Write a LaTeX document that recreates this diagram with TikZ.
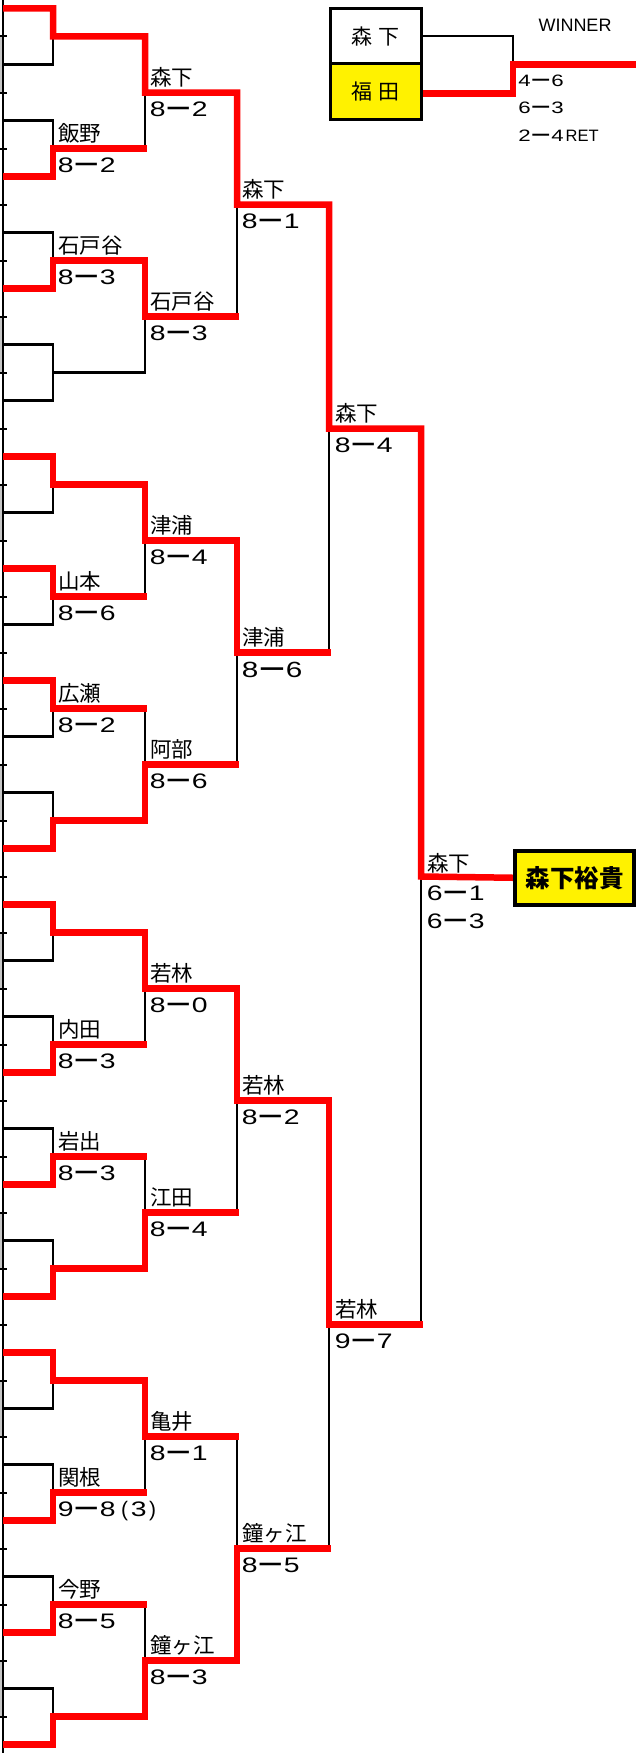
\documentclass[tikz,border=0pt]{standalone}
\usepackage{fontspec}
\usepackage{graphicx}
\setmainfont{Noto Sans CJK JP}
\newfontfamily\arial{Liberation Sans}
\pgfdeclarelayer{bg}
\pgfsetlayers{bg,main}
% score glyph helpers
\newcommand\dgt[1]{\makebox[1em]{\arial\scalebox{1.35}[1]{#1}}}
\newcommand\dsh{\makebox[1em]{\bfseries\scalebox{1.45}[1]{－}}}
\newcommand\scr[2]{\dgt{#1}\dsh\dgt{#2}}
\newcommand\bkl[5]{%
  \node[nm] (#1a) at ({#2+5},{#3-7}) {#4};
  \node[sc] (#1b) at ({#2+2},{#3+23.5}) {#5};}
\begin{document}
\begin{tikzpicture}[x=1pt,y=-1pt,
  blk/.style={line width=2.3pt,black,line cap=rect},
  redp/.style={line width=6.5pt,red,line join=miter,line cap=butt},
  nm/.style={anchor=base west,inner sep=0pt,font=\fontsize{21.5}{23}\selectfont},
  sc/.style={anchor=base west,inner sep=0pt,font=\fontsize{21}{23}\selectfont},
  small/.style={anchor=base west,inner sep=0pt,font=\fontsize{16.5}{18}\selectfont},
]
\useasboundingbox (0,0) rectangle (636,1753);

% ---------- boxes ----------
\node[draw,line width=3pt,minimum width=91pt,minimum height=54.5pt,inner sep=0pt,
      font=\fontsize{21}{23}\selectfont] (tA) at (375.5,36.25) {森\hspace{7pt}下};
\node[draw,fill=yellow,line width=3pt,minimum width=91pt,minimum height=55.5pt,inner sep=0pt,
      font=\fontsize{21}{23}\selectfont] (tB) at (375.5,91.25) {福\hspace{7pt}田};
\node[anchor=base,inner sep=0pt,font=\arial\fontsize{18}{20}\selectfont] (win) at (575,32) {WINNER};
\node[small] (fs1) at (516,86) {\scr{4}{6}};
\node[small] (fs2) at (516,113.5) {\scr{6}{3}};
\node[small] (fs3) at (516,141) {\scr{2}{4}{\arial RET}};

\node[draw,fill=yellow,line width=4pt,minimum width=119pt,minimum height=53.5pt,inner sep=0pt,
      font=\bfseries\fontsize{24.5}{26}\selectfont] (champ) at (574.5,877.75) {森下裕貴};

% ---------- labels ----------
% round 1 (vertical x = 53)
\bkl{ra}{53}{148.5}{飯野}{\scr{8}{2}}
\bkl{rb}{53}{260.5}{石戸谷}{\scr{8}{3}}
\bkl{rc}{53}{596.5}{山本}{\scr{8}{6}}
\bkl{rd}{53}{708.5}{広瀬}{\scr{8}{2}}
\bkl{re}{53}{1044.5}{内田}{\scr{8}{3}}
\bkl{rf}{53}{1156.5}{岩出}{\scr{8}{3}}
\bkl{rg}{53}{1492.5}{関根}{\scr{9}{8}\makebox[10pt][r]{\arial(}\dgt{3}\makebox[7pt][l]{\arial)}}
\bkl{rh}{53}{1604.5}{今野}{\scr{8}{5}}
% round 2 (x = 145)
\bkl{sa}{145}{92.5}{森下}{\scr{8}{2}}
\bkl{sb}{145}{316.5}{石戸谷}{\scr{8}{3}}
\bkl{sc}{145}{540.5}{津浦}{\scr{8}{4}}
\bkl{sd}{145}{764.5}{阿部}{\scr{8}{6}}
\bkl{se}{145}{988.5}{若林}{\scr{8}{0}}
\bkl{sf}{145}{1212.5}{江田}{\scr{8}{4}}
\bkl{sg}{145}{1436.5}{亀井}{\scr{8}{1}}
\bkl{sh}{145}{1660.5}{鐘ヶ江}{\scr{8}{3}}
% round 3 (x = 237)
\bkl{ta}{237}{204.5}{森下}{\scr{8}{1}}
\node[nm] (tba) at (242,645.5) {津浦};
\node[sc,font=\fontsize{22}{24}\selectfont] (tbb) at (239,677) {\scr{8}{6}};
\bkl{tc}{237}{1100.5}{若林}{\scr{8}{2}}
\bkl{td}{237}{1548.5}{鐘ヶ江}{\scr{8}{5}}
% round 4 (x = 329)
\bkl{ua}{330}{428.5}{森下}{\scr{8}{4}}
\bkl{ub}{330}{1324.5}{若林}{\scr{9}{7}}
% round 5 (x = 421)
\node[nm] (va) at (427,871.5) {森下};
\node[sc] (vb) at (424,900) {\scr{6}{1}};
\node[sc] (vc) at (424,928) {\scr{6}{3}};

\begin{pgfonlayer}{bg}
% gray marks on the left edge
\foreach \q in {0,...,3} {
  \draw[gray!45,line width=2pt] (1,{36.5+448*\q}) -- (1,{92.5+448*\q});
  \draw[gray!45,line width=2pt] (1,{316.5+448*\q}) -- (1,{372.5+448*\q});
}
% left rule and ticks
\draw[line width=2.5pt] (3,0) -- (3,1753);
\foreach \j in {0,...,30} \draw[line width=2pt] (0,{36.5+56*\j}) -- (7,{36.5+56*\j});
% black skeleton
\foreach \j in {0,...,31} \draw[blk] (3,{8.5+56*\j}) -- (53,{8.5+56*\j});
\foreach \k in {0,...,15} {
  \draw[blk] (53,{8.5+112*\k}) -- (53,{64.5+112*\k});
  \draw[blk] (53,{36.5+112*\k}) -- (145,{36.5+112*\k});
}
\foreach \p in {0,...,7} {
  \draw[blk] (145,{36.5+224*\p}) -- (145,{148.5+224*\p});
  \draw[blk] (145,{92.5+224*\p}) -- (237,{92.5+224*\p});
}
\foreach \q in {0,...,3} {
  \draw[blk] (237,{92.5+448*\q}) -- (237,{316.5+448*\q});
  \draw[blk] (237,{204.5+448*\q}) -- (329,{204.5+448*\q});
}
\foreach \h in {0,1} {
  \draw[blk] (329,{204.5+896*\h}) -- (329,{652.5+896*\h});
  \draw[blk] (329,{428.5+896*\h}) -- (421,{428.5+896*\h});
}
\draw[blk] (421,428.5) -- (421,1324.5);
% top-right final
\draw[blk] (tA.east) -| (513,64.75);
\draw[redp] (tB.east) ++(0,2) -| (513,64.75) -- (636,64.75);

% red paths
\draw[redp] (3,8.5) -- (53,8.5) -- (53,36.5) -- (145,36.5) -- (145,92.5) -- (237,92.5)
  -- (237,204.5) -- (329,204.5) -- (329,428.5) -- (421,428.5) -- (421,876.5) -- (champ.west);
\draw[redp] (3,176.5) -- (53,176.5) -- (53,148.5) -- (147,148.5);
\draw[redp] (3,288.5) -- (53,288.5) -- (53,260.5) -- (145,260.5) -- (145,316.5) -- (239,316.5);
\draw[redp] (3,456.5) -- (53,456.5) -- (53,484.5) -- (145,484.5) -- (145,540.5) -- (237,540.5)
  -- (237,652.5) -- (331,652.5);
\draw[redp] (3,568.5) -- (53,568.5) -- (53,596.5) -- (147,596.5);
\draw[redp] (3,680.5) -- (53,680.5) -- (53,708.5) -- (147,708.5);
\draw[redp] (3,848.5) -- (53,848.5) -- (53,820.5) -- (145,820.5) -- (145,764.5) -- (239,764.5);
\draw[redp] (3,904.5) -- (53,904.5) -- (53,932.5) -- (145,932.5) -- (145,988.5) -- (237,988.5)
  -- (237,1100.5) -- (329,1100.5) -- (329,1324.5) -- (423,1324.5);
\draw[redp] (3,1072.5) -- (53,1072.5) -- (53,1044.5) -- (147,1044.5);
\draw[redp] (3,1184.5) -- (53,1184.5) -- (53,1156.5) -- (147,1156.5);
\draw[redp] (3,1296.5) -- (53,1296.5) -- (53,1268.5) -- (145,1268.5) -- (145,1212.5) -- (239,1212.5);
\draw[redp] (3,1352.5) -- (53,1352.5) -- (53,1380.5) -- (145,1380.5) -- (145,1436.5) -- (239,1436.5);
\draw[redp] (3,1520.5) -- (53,1520.5) -- (53,1492.5) -- (147,1492.5);
\draw[redp] (3,1632.5) -- (53,1632.5) -- (53,1604.5) -- (147,1604.5);
\draw[redp] (3,1744.5) -- (53,1744.5) -- (53,1716.5) -- (145,1716.5) -- (145,1660.5) -- (237,1660.5)
  -- (237,1548.5) -- (331,1548.5);
\end{pgfonlayer}
\end{tikzpicture}
\end{document}
